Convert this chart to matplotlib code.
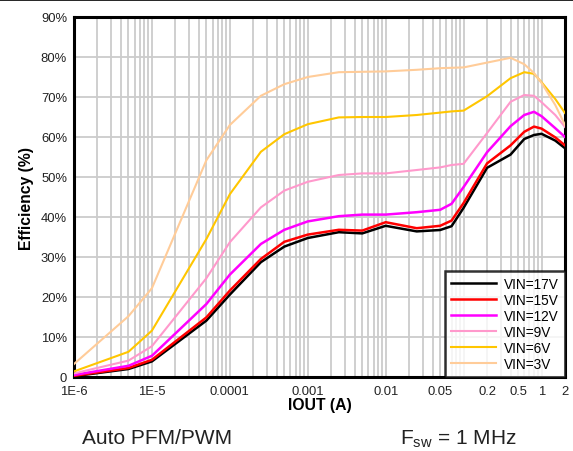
import numpy as np
import matplotlib
matplotlib.use("Agg")
import matplotlib.pyplot as plt
from matplotlib.ticker import FixedLocator, NullFormatter, LogLocator

plt.rcParams['font.family'] = ['Liberation Sans', 'DejaVu Sans']

# Load current (A)
iout = [1e-6, 5e-6, 1e-5, 5e-5, 1e-4, 2.5e-4, 5e-4, 1e-3, 2.5e-3, 5e-3,
        1e-2, 2.5e-2, 5e-2, 7e-2, 0.1, 0.2, 0.4, 0.6, 0.8, 1.0, 1.5, 2.0]

# Efficiency (%) per input voltage
eff_17v = [0.2, 2.0, 3.9, 14.1, 20.6, 28.7, 32.6, 34.75, 36.2, 35.9,
           37.8, 36.4, 36.75, 37.7, 42.3, 52.3, 55.6, 59.5, 60.5, 60.8, 59.1, 57.2]
eff_15v = [0.3, 2.25, 4.3, 14.9, 21.6, 29.5, 33.8, 35.6, 36.8, 36.6,
           38.7, 37.2, 37.8, 39.1, 43.5, 53.4, 57.9, 61.3, 62.6, 62.1, 59.9, 57.9]
eff_12v = [0.5, 2.8, 5.3, 18.25, 25.6, 33.25, 36.8, 38.9, 40.2, 40.6,
           40.6, 41.2, 41.8, 43.3, 47.5, 56.2, 62.7, 65.5, 66.3, 65.2, 62.2, 60.0]
eff_9v = [0.9, 4.1, 7.7, 24.7, 33.7, 42.4, 46.6, 48.8, 50.5, 50.9,
          50.9, 51.75, 52.4, 53.0, 53.3, 61.0, 68.8, 70.5, 70.3, 68.7, 65.5, 62.5]
eff_6v = [1.4, 6.3, 11.6, 34.5, 45.7, 56.3, 60.7, 63.2, 64.9, 65.0,
          65.0, 65.5, 66.1, 66.4, 66.6, 70.2, 74.7, 76.2, 75.8, 73.7, 69.5, 66.0]
eff_3v = [3.25, 15.2, 22.2, 54.2, 63.0, 70.3, 73.2, 75.0, 76.2, 76.3,
          76.4, 76.8, 77.2, 77.3, 77.4, 78.6, 79.8, 78.2, 76.0, 73.5, 68.0, 63.0]

labels = ["VIN=17V", "VIN=15V", "VIN=12V", "VIN=9V", "VIN=6V", "VIN=3V"]
series = [eff_17v, eff_15v, eff_12v, eff_9v, eff_6v, eff_3v]
colors = ["#000000", "#FF0000", "#FF00FF", "#FF99CC", "#FFC600", "#FFCC99"]
widths = [1.8, 1.8, 1.8, 1.5, 1.5, 1.5]

xtick_vals = [1e-6, 1e-5, 1e-4, 1e-3, 1e-2, 0.05, 0.2, 0.5, 1, 2]
xtick_labels = ["1E-6", "1E-5", "0.0001", "0.001", "0.01", "0.05", "0.2", "0.5", "1", "2"]
ytick_vals = list(range(0, 100, 10))
ytick_labels = ["0"] + [f"{v}%" for v in ytick_vals[1:]]

fig = plt.figure(figsize=(5.73, 4.52), dpi=100)
ax = fig.add_axes([74/573, 74/452, 491/573, 360/452])

for y, lab, c, lw in zip(series, labels, colors, widths):
    ax.plot(iout, y, color=c, lw=lw, label=lab, zorder=3)

ax.set_xscale("log")
ax.set_xlim(1e-6, 2)
ax.set_ylim(0, 90)

# grid: every decade subdivision on x, every 10% on y
ax.xaxis.set_minor_locator(LogLocator(base=10, subs=np.arange(1, 10)))
ax.xaxis.set_minor_formatter(NullFormatter())
ax.grid(True, which="both", axis="x", color="#CCCCCC", lw=1.3, zorder=0)
ax.grid(True, which="major", axis="y", color="#CCCCCC", lw=1.3, zorder=0)

ax.xaxis.set_major_locator(FixedLocator(xtick_vals))
ax.set_xticklabels(xtick_labels)
ax.set_yticks(ytick_vals)
ax.set_yticklabels(ytick_labels)
ax.tick_params(which="both", length=0, labelsize=9.4, colors="#222222", pad=6)
ax.tick_params(axis="y", pad=5)
ax.set_axisbelow(True)

for s in ax.spines.values():
    s.set_linewidth(2.2)
    s.set_color("black")

ax.set_xlabel("IOUT (A)", fontsize=11.3, fontweight="bold", labelpad=0)
ax.set_ylabel("Efficiency (%)", fontsize=11.3, fontweight="bold", labelpad=5)

leg = ax.legend(loc="lower right", fontsize=9.8, frameon=True, fancybox=False,
                borderaxespad=0, handlelength=3.3, labelspacing=0.15,
                handletextpad=0.6, borderpad=0.45)
leg.get_frame().set_edgecolor("black")
leg.get_frame().set_linewidth(1.8)

# rule at top and footer annotations
fig.add_artist(plt.Line2D([0, 1], [451/452, 451/452], color="black", lw=1.2,
                          transform=fig.transFigure))
fig.text(157/573, 1 - 439/452, "Auto PFM/PWM", fontsize=15, ha="center", va="center",
         color="#222222")
fig.text(458/573, 1 - 439/452, r"F$_{\mathregular{sw}}$ = 1 MHz", fontsize=15,
         ha="center", va="center", color="#222222")

fig.savefig("out.png", dpi=100)
